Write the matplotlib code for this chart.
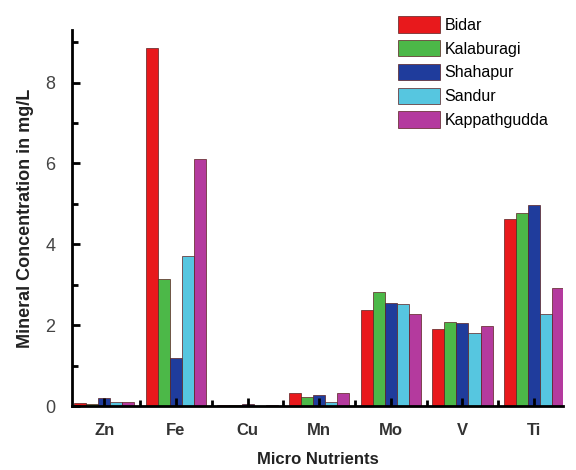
import matplotlib
matplotlib.use("Agg")
import matplotlib.pyplot as plt
import numpy as np
from matplotlib.ticker import MultipleLocator

plt.rcParams["font.family"] = ["Liberation Sans", "DejaVu Sans"]

nutrients = ["Zn", "Fe", "Cu", "Mn", "Mo", "V", "Ti"]
sites = ["Bidar", "Kalaburagi", "Shahapur", "Sandur", "Kappathgudda"]
bidar = [0.08, 8.85, 0.02, 0.33, 2.38, 1.90, 4.63]
kalaburagi = [0.05, 3.15, 0.02, 0.22, 2.82, 2.07, 4.78]
shahapur = [0.20, 1.20, 0.05, 0.28, 2.55, 2.05, 4.98]
sandur = [0.10, 3.72, 0.01, 0.10, 2.52, 1.80, 2.28]
kappathgudda = [0.10, 6.10, 0.03, 0.32, 2.28, 1.97, 2.93]
series = [bidar, kalaburagi, shahapur, sandur, kappathgudda]
colors = ["#e8191c", "#4cb848", "#1f3c9c", "#56c6e0", "#b43a9e"]

fig = plt.figure(figsize=(5.76, 4.7), dpi=100)
ax = fig.add_axes([0.125, 0.136, 0.852, 0.80])

x = np.arange(len(nutrients))
w = 0.168
for i, (vals, c, name) in enumerate(zip(series, colors, sites)):
    ax.bar(x + (i - 2) * w, vals, width=w, color=c, edgecolor="#5a2020",
           linewidth=0.5, label=name)

ax.set_xlim(-0.45, 6.4)
ax.set_ylim(0, 9.3)
ax.set_xticks(x)
ax.set_xticklabels(nutrients, fontweight="bold", fontsize=12)
ax.set_xticks(x[:-1] + 0.5, minor=True)
ax.yaxis.set_major_locator(MultipleLocator(2))
ax.yaxis.set_minor_locator(MultipleLocator(1))
ax.tick_params(axis="both", which="both", direction="in", width=2, colors="black")
ax.tick_params(axis="both", which="major", length=6)
ax.tick_params(axis="x", which="major", pad=12)
ax.tick_params(axis="y", which="major", pad=12)
ax.tick_params(axis="both", which="minor", length=4)
ax.tick_params(axis="y", labelsize=13, labelcolor="#444444")
ax.tick_params(axis="x", labelcolor="#333333")

for s in ["top", "right"]:
    ax.spines[s].set_visible(False)
for s in ["left", "bottom"]:
    ax.spines[s].set_linewidth(2)

ax.set_ylabel("Mineral Concentration in mg/L", fontweight="bold", fontsize=13,
              color="#222222", labelpad=8)
ax.set_xlabel("Micro Nutrients", fontweight="bold", fontsize=12,
              color="#222222", labelpad=10)

ax.legend(loc="upper right", bbox_to_anchor=(1.0, 1.075), frameon=False,
          fontsize=11.5, handlelength=2.6, handleheight=1.2, labelspacing=0.45,
          handletextpad=0.3)

fig.savefig("out.png", dpi=100)
